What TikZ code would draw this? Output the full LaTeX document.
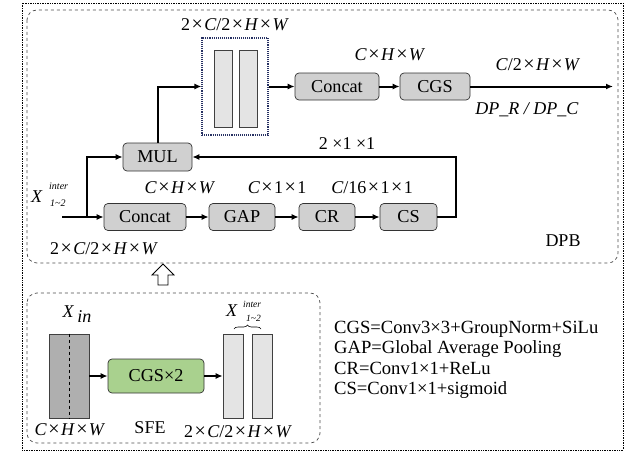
\documentclass[tikz,border=0pt]{standalone}
\usepackage{fontspec}
\setmainfont{Liberation Serif}
\usetikzlibrary{arrows.meta,decorations.pathreplacing}
\definecolor{boxgray}{RGB}{208,208,208}
\definecolor{bargray}{RGB}{228,228,228}
\definecolor{darkbar}{RGB}{175,175,175}
\definecolor{sfegreen}{RGB}{169,209,142}
\definecolor{navy}{RGB}{40,50,100}
\newcommand{\TX}{\hspace{0.08em}{\fontsize{20}{20}\selectfont×}\hspace{0.08em}}
\begin{document}
\begin{tikzpicture}[x=1pt,y=-1pt,
  box/.style={draw=black!80, fill=boxgray, rounded corners=4pt, line width=0.7pt,
    inner sep=0pt, minimum height=27pt, font=\fontsize{18.2}{20}\selectfont},
  bar/.style={draw=black!75, fill=bargray, line width=0.7pt, inner sep=0pt},
  arr/.style={line width=2pt, -{Latex[length=7pt,width=6pt]}},
  lbl/.style={inner sep=0pt, font=\fontsize{18}{20}\selectfont},
  sml/.style={inner sep=0pt, font=\fontsize{10}{11}\selectfont\itshape, anchor=west},
  frame/.style={dashed, draw=black!70, line width=0.7pt, rounded corners=10pt}
]
\useasboundingbox (0,0) rectangle (631,452);
% frames
\draw[densely dotted, line width=0.7pt] (22,3) rectangle (623,450);
\draw[frame] (27,10) rectangle (618,263);
\draw[frame] (27,293) rectangle (320,443);
% hollow up arrow
\draw[fill=white, line width=0.8pt] (158,285) -- (158,275) -- (152,275) -- (163,264) -- (174,275) -- (168,275) -- (168,285) -- cycle;

% DPB top row
\node[draw=navy, densely dotted, line width=1.1pt, minimum width=66pt, minimum height=97pt, inner sep=0pt] (grp) at (235,86.5) {};
\node[bar, minimum width=18pt, minimum height=77pt] (gb1) at (223,88.5) {};
\node[bar, minimum width=18pt, minimum height=77pt] (gb2) at (248,88.5) {};
\node[box, minimum width=84pt] (cat1) at (337,86.5) {Concat};
\node[box, minimum width=70pt] (cgs) at (435,86.5) {CGS};
\coordinate (out) at (613,86.5);

% DPB bottom rows
\node[box, minimum width=69pt, minimum height=28pt] (mul) at (157.5,157) {MUL};
\node[box, minimum width=82pt] (cat2) at (145,217) {Concat};
\node[box, minimum width=66pt] (gap) at (242,217) {GAP};
\node[box, minimum width=56pt] (cr) at (327,217) {CR};
\node[box, minimum width=57pt] (cs) at (408.5,217) {CS};
\coordinate (in) at (62,217);
\coordinate (br) at (87,217);
\coordinate (fb) at (456,157);

\draw[line width=2pt] (in) -- (br);
\draw[arr] (br) -- (cat2);
\draw[arr] (br) |- (mul);
\draw[arr] (cat2) -- (gap);
\draw[arr] (gap) -- (cr);
\draw[arr] (cr) -- (cs);
\draw[arr] (cs.east) -| (fb) -- (mul.east);
\draw[arr] (mul.north) |- (grp.west);
\draw[arr] (grp) -- (cat1);
\draw[arr] (cat1) -- (cgs);
\draw[arr] (cgs) -- (out);

% DPB labels
\node[lbl] (l1) at (235,25) {2\TX\textit{C}/2\TX\textit{H}\TX\textit{W}};
\node[lbl] (l2) at (390,55) {\textit{C}\TX\textit{H}\TX\textit{W}};
\node[lbl] (l3) at (538,65) {\textit{C}/2\TX\textit{H}\TX\textit{W}};
\node[lbl] (l4) at (527,110) {\textit{DP\_R / DP\_C}};
\node[lbl] (l5) at (347,144) {2 ×1 ×1};
\node[lbl] (l6) at (180,188) {\textit{C}\TX\textit{H}\TX\textit{W}};
\node[lbl] (l7) at (277,188) {\textit{C}\TX1\TX1};
\node[lbl] (l8) at (372,188) {\textit{C}/16\TX1\TX1};
\node[lbl] (l9) at (104,249) {2\TX\textit{C}/2\TX\textit{H}\TX\textit{W}};
\node[lbl] (dpb) at (563,241) {DPB};
\node[lbl, anchor=west] (xi1) at (31,197) {\textit{X}};
\node[sml] (xi1s) at (49,186) {inter};
\node[sml] (xi1b) at (50,203) {1\textasciitilde 2};

% SFE
\node[draw=black!75, fill=darkbar, line width=0.7pt, inner sep=0pt, minimum width=40pt, minimum height=84pt] (xin) at (69,376) {};
\draw[dashed, line width=0.6pt] (xin.north) -- (xin.south);
\node[box, fill=sfegreen, minimum width=96pt, minimum height=34pt] (cgs2) at (156,376) {CGS×2};
\node[bar, minimum width=20pt, minimum height=84pt] (sb1) at (233,376) {};
\node[bar, minimum width=20pt, minimum height=84pt] (sb2) at (262,376) {};
\draw[arr] (xin) -- (cgs2);
\draw[arr] (cgs2) -- (sb1);
\draw[line width=0.6pt, decorate, decoration={brace, amplitude=4pt}] (234,329) -- (261,329);
\node[lbl] (xinl) at (77,314) {\textit{X}\,\raisebox{-0.55ex}{\textit{in}}};
\node[lbl, anchor=west] (xi2) at (226,311) {\textit{X}};
\node[sml, font=\fontsize{9.5}{10}\selectfont\itshape] (xi2s) at (243,304) {inter};
\node[sml, font=\fontsize{9.5}{10}\selectfont\itshape] (xi2b) at (246,318) {1\textasciitilde 2};
\node[lbl] (s1) at (70,430) {\textit{C}\TX\textit{H}\TX\textit{W}};
\node[lbl] (s2) at (150,428) {SFE};
\node[lbl] (s3) at (238,432) {2\TX\textit{C}/2\TX\textit{H}\TX\textit{W}};

% legend
\node[inner sep=0pt, anchor=north west, align=left, font=\fontsize{18.6}{20.3}\selectfont] (leg) at (334,321)
 {CGS=Conv3×3+GroupNorm+SiLu\\GAP=Global Average Pooling\\CR=Conv1×1+ReLu\\CS=Conv1×1+sigmoid};
\end{tikzpicture}
\end{document}
